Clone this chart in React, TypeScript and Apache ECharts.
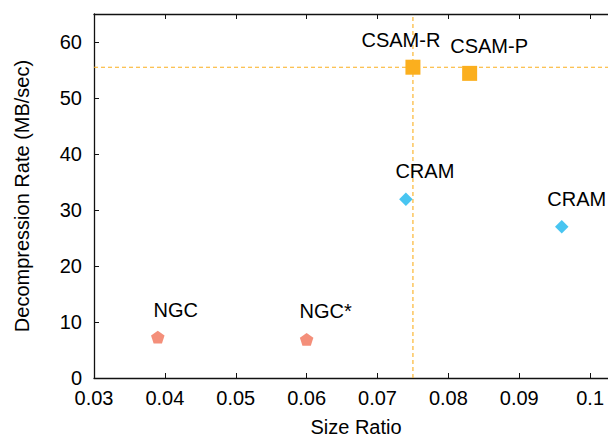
import React, { useEffect, useRef } from "react";
import * as echarts from "echarts";

const ngcPoints = [
  { name: "NGC", x: 0.039, y: 7.3 },
  { name: "NGC*", x: 0.06, y: 6.9 },
];
const cramPoints = [
  { name: "CRAM", x: 0.074, y: 31.9 },
  { name: "CRAM", x: 0.096, y: 27.0 },
];
const csamPoints = [
  { name: "CSAM-R", x: 0.075, y: 55.5 },
  { name: "CSAM-P", x: 0.083, y: 54.4 },
];
const refLineX = 0.075;
const refLineY = 55.5;
const xRange = [0.03, 0.11];
const yRange = [0, 65];

const ngcOffsets = [[18, -27], [19, -28.5]];
const cramOffsets = [[19, -28], [15, -28]];
const csamOffsets = [[-12, -27.6], [19.5, -27.5]];

const FONT = "'Liberation Sans', Arial, Helvetica, sans-serif";
const ORANGE = "#FBAF1E";
const BLUE = "#48C5F1";
const SALMON = "#F48F7A";
const TEXT = "#000";
const PENTAGON = "path://M50,0 L97.55,34.55 L79.39,90.45 L20.61,90.45 L2.45,34.55 Z";

const CHART_W = 700;
const CHART_H = 438;

function mkData(points: { name: string; x: number; y: number }[], offsets: number[][]) {
  return points.map((p, i) => ({
    name: p.name,
    value: [p.x, p.y],
    label: { offset: offsets[i] },
  }));
}

const labelStyle = {
  show: true,
  position: "inside",
  formatter: "{b}",
  color: TEXT,
  fontSize: 20,
  fontFamily: FONT,
  align: "center",
  verticalAlign: "middle",
};

export default function App() {
  const ref = useRef<HTMLDivElement>(null);
  useEffect(() => {
    if (!ref.current) return;
    const chart = echarts.init(ref.current, undefined, { renderer: "svg" });
    const axisLine = { show: true, lineStyle: { color: "#111", width: 1.3 } };
    const axisTick = { show: true, inside: true, length: 5, lineStyle: { color: "#111", width: 1 } };
    const dashStyle = { color: ORANGE, type: [4, 3], width: 1.1, opacity: 1 };
    const refLine = (data: number[][]) => ({
      type: "line",
      data,
      symbol: "none",
      silent: true,
      lineStyle: dashStyle,
      itemStyle: { color: ORANGE },
      z: 1,
    });
    const scatter = (symbol: string, size: number | number[], color: string, data: any[]) => ({
      type: "scatter",
      symbol,
      symbolSize: size,
      itemStyle: { color, opacity: 1 },
      label: labelStyle,
      data,
      z: 3,
    });
    chart.setOption({
      animation: false,
      backgroundColor: "#fff",
      grid: { left: 94, top: 14, right: CHART_W - 661, bottom: 60, outerBoundsMode: "none" },
      xAxis: [
        {
          type: "value",
          min: xRange[0],
          max: xRange[1],
          interval: 0.01,
          axisLine,
          axisTick,
          splitLine: { show: false },
          axisLabel: { color: TEXT, fontSize: 20, fontFamily: FONT, margin: 10, showMaxLabel: false },
        },
        {
          type: "value",
          position: "top",
          min: xRange[0],
          max: xRange[1],
          interval: 0.01,
          axisLine,
          axisTick,
          splitLine: { show: false },
          axisLabel: { show: false },
        },
      ],
      yAxis: {
        type: "value",
        min: yRange[0],
        max: yRange[1],
        interval: 10,
        axisLine,
        axisTick,
        splitLine: { show: false },
        axisLabel: { color: TEXT, fontSize: 20, fontFamily: FONT, margin: 12, showMaxLabel: false },
      },
      graphic: [
        {
          type: "text",
          x: 356,
          y: 427,
          style: {
            text: "Size Ratio",
            fill: TEXT,
            fontSize: 20,
            fontFamily: FONT,
            align: "center",
            verticalAlign: "middle",
          },
        },
        {
          type: "text",
          x: 22,
          y: 196,
          rotation: Math.PI / 2,
          style: {
            text: "Decompression Rate (MB/sec)",
            fill: TEXT,
            fontSize: 20,
            fontFamily: FONT,
            align: "center",
            verticalAlign: "middle",
          },
        },
      ],
      series: [
        refLine([[refLineX, yRange[0]], [refLineX, yRange[1]]]),
        refLine([[xRange[0], refLineY], [xRange[1], refLineY]]),
        scatter(PENTAGON, [13.5, 12.8], SALMON, mkData(ngcPoints, ngcOffsets)),
        scatter("diamond", [13.5, 13.5], BLUE, mkData(cramPoints, cramOffsets)),
        scatter("rect", 15, ORANGE, mkData(csamPoints, csamOffsets)),
      ],
    });
    return () => chart.dispose();
  }, []);
  return (
    <div style={{ position: "absolute", left: 0, top: 0, width: 608, height: 438, overflow: "hidden" }}>
      <div ref={ref} style={{ width: CHART_W, height: CHART_H }} />
    </div>
  );
}
